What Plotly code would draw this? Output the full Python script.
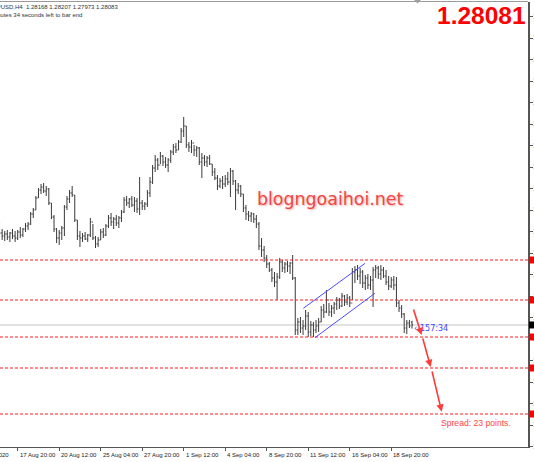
import plotly.graph_objects as go

# ---------------- data (GBPUSD H4) ----------------
bar_index = list(range(160))

opens = [1.3093,1.3084,1.3075,1.3081,1.3072,1.3084,1.3075,1.3069,1.3087,1.3078,
         1.3096,1.3105,1.3111,1.3141,1.3153,1.3189,1.3213,1.3222,1.3210,1.3216,
         1.3174,1.3132,1.3096,1.3069,1.3084,1.3099,1.3162,1.3186,1.3204,1.3198,
         1.3123,1.3075,1.3069,1.3075,1.3066,1.3078,1.3117,1.3069,1.3051,1.3063,
         1.3087,1.3078,1.3105,1.3129,1.3117,1.3126,1.3114,1.3129,1.3147,1.3183,
         1.3174,1.3186,1.3168,1.3180,1.3156,1.3174,1.3165,1.3171,1.3204,1.3237,
         1.3279,1.3303,1.3288,1.3315,1.3297,1.3288,1.3303,1.3327,1.3342,1.3333,
         1.3357,1.3390,1.3405,1.3348,1.3342,1.3354,1.3333,1.3339,1.3297,1.3309,
         1.3297,1.3309,1.3291,1.3267,1.3249,1.3225,1.3240,1.3231,1.3246,1.3237,
         1.3270,1.3240,1.3213,1.3225,1.3201,1.3159,1.3141,1.3135,1.3141,1.3126,
         1.3111,1.3045,1.3033,1.3009,1.2991,1.2973,1.2949,1.2937,1.2952,1.2997,
         1.2979,1.2991,1.2985,1.2994,1.2949,1.2793,1.2817,1.2799,1.2805,1.2835,
         1.2787,1.2808,1.2793,1.2805,1.2817,1.2853,1.2847,1.2883,1.2847,1.2859,
         1.2871,1.2883,1.2865,1.2895,1.2877,1.2889,1.2874,1.2967,1.2973,1.2955,
         1.2967,1.2934,1.2949,1.2928,1.2943,1.2973,1.2979,1.2961,1.2973,1.2955,
         1.2937,1.2925,1.2943,1.2928,1.2874,1.2859,1.2841,1.2799,1.2814,1.28168]

highs = [1.3117,1.3096,1.3090,1.3093,1.3087,1.3096,1.3090,1.3093,1.3102,1.3099,
         1.3114,1.3117,1.3147,1.3159,1.3195,1.3219,1.3231,1.3234,1.3225,1.3219,
         1.3174,1.3138,1.3099,1.3093,1.3105,1.3168,1.3195,1.3213,1.3225,1.3198,
         1.3123,1.3090,1.3084,1.3087,1.3081,1.3129,1.3111,1.3075,1.3072,1.3096,
         1.3099,1.3111,1.3138,1.3144,1.3132,1.3138,1.3135,1.3153,1.3192,1.3195,
         1.3189,1.3195,1.3192,1.3189,1.3252,1.3183,1.3177,1.3213,1.3252,1.3288,
         1.3318,1.3309,1.3327,1.3318,1.3312,1.3309,1.3333,1.3351,1.3354,1.3363,
         1.3399,1.3432,1.3405,1.3357,1.3363,1.3348,1.3345,1.3342,1.3324,1.3318,
         1.3315,1.3318,1.3291,1.3279,1.3258,1.3249,1.3255,1.3258,1.3267,1.3279,
         1.3273,1.3243,1.3234,1.3228,1.3201,1.3168,1.3150,1.3147,1.3144,1.3138,
         1.3117,1.3069,1.3045,1.3018,1.2997,1.2979,1.2967,1.2964,1.3009,1.3003,
         1.2997,1.3000,1.2997,1.3018,1.2952,1.2829,1.2832,1.2823,1.2853,1.2847,
         1.2820,1.2817,1.2823,1.2829,1.2865,1.2871,1.2913,1.2874,1.2868,1.2877,
         1.2892,1.2889,1.2904,1.2898,1.2901,1.2895,1.2979,1.2985,1.2988,1.2979,
         1.2973,1.2958,1.2961,1.2955,1.2982,1.2988,1.2985,1.2988,1.2982,1.2973,
         1.2955,1.2952,1.2955,1.2952,1.2883,1.2868,1.2844,1.2823,1.2823,1.28207]

lows = [1.3072,1.3063,1.3060,1.3063,1.3057,1.3066,1.3057,1.3063,1.3069,1.3072,
        1.3087,1.3093,1.3108,1.3129,1.3153,1.3189,1.3201,1.3204,1.3195,1.3168,
        1.3126,1.3087,1.3054,1.3048,1.3063,1.3075,1.3153,1.3174,1.3192,1.3117,
        1.3063,1.3042,1.3057,1.3063,1.3057,1.3072,1.3063,1.3039,1.3042,1.3063,
        1.3069,1.3075,1.3099,1.3105,1.3096,1.3105,1.3099,1.3117,1.3144,1.3165,
        1.3159,1.3162,1.3147,1.3144,1.3138,1.3153,1.3153,1.3162,1.3192,1.3231,
        1.3267,1.3273,1.3291,1.3285,1.3279,1.3267,1.3294,1.3318,1.3324,1.3333,
        1.3354,1.3372,1.3339,1.3327,1.3324,1.3315,1.3312,1.3288,1.3249,1.3285,
        1.3282,1.3288,1.3255,1.3243,1.3213,1.3219,1.3216,1.3222,1.3228,1.3192,
        1.3228,1.3153,1.3201,1.3192,1.3147,1.3123,1.3120,1.3117,1.3114,1.3099,
        1.3033,1.3012,1.2997,1.2979,1.2967,1.2937,1.2922,1.2883,1.2946,1.2967,
        1.2964,1.2967,1.2961,1.2943,1.2778,1.2778,1.2784,1.2778,1.2793,1.2772,
        1.2775,1.2772,1.2784,1.2787,1.2817,1.2829,1.2844,1.2835,1.2832,1.2841,
        1.2853,1.2856,1.2862,1.2865,1.2868,1.2862,1.2883,1.2934,1.2943,1.2931,
        1.2919,1.2913,1.2916,1.2913,1.2862,1.2949,1.2946,1.2943,1.2949,1.2928,
        1.2913,1.2919,1.2913,1.2862,1.2847,1.2829,1.2784,1.2781,1.2799,1.27973]

closes = [1.3084,1.3075,1.3081,1.3072,1.3084,1.3075,1.3069,1.3087,1.3078,1.3096,
          1.3105,1.3111,1.3141,1.3153,1.3189,1.3213,1.3222,1.3210,1.3216,1.3174,
          1.3132,1.3096,1.3069,1.3084,1.3099,1.3162,1.3186,1.3204,1.3198,1.3123,
          1.3075,1.3069,1.3075,1.3066,1.3078,1.3117,1.3069,1.3051,1.3063,1.3087,
          1.3078,1.3105,1.3129,1.3117,1.3126,1.3114,1.3129,1.3147,1.3183,1.3174,
          1.3186,1.3168,1.3180,1.3156,1.3174,1.3165,1.3171,1.3204,1.3237,1.3279,
          1.3303,1.3288,1.3315,1.3297,1.3288,1.3303,1.3327,1.3342,1.3333,1.3357,
          1.3390,1.3405,1.3348,1.3342,1.3354,1.3333,1.3339,1.3297,1.3309,1.3297,
          1.3309,1.3291,1.3267,1.3249,1.3225,1.3240,1.3231,1.3246,1.3237,1.3270,
          1.3240,1.3213,1.3225,1.3201,1.3159,1.3141,1.3135,1.3141,1.3126,1.3111,
          1.3045,1.3033,1.3009,1.2991,1.2973,1.2949,1.2937,1.2952,1.2997,1.2979,
          1.2991,1.2985,1.2994,1.2949,1.2793,1.2817,1.2799,1.2805,1.2835,1.2787,
          1.2808,1.2793,1.2805,1.2817,1.2853,1.2847,1.2883,1.2847,1.2859,1.2871,
          1.2883,1.2865,1.2895,1.2877,1.2889,1.2874,1.2967,1.2973,1.2955,1.2967,
          1.2934,1.2949,1.2928,1.2943,1.2973,1.2979,1.2961,1.2973,1.2955,1.2937,
          1.2925,1.2943,1.2928,1.2874,1.2859,1.2841,1.2799,1.2814,1.2805,1.28081]

date_tick_index = [7, 23, 39, 55, 71, 87, 103, 119, 135, 151]
date_tick_text = ["17 Aug 20:00", "20 Aug 12:00", "25 Aug 04:00", "27 Aug 20:00",
                  "1 Sep 12:00", "4 Sep 04:00", "8 Sep 20:00", "11 Sep 12:00",
                  "16 Sep 04:00", "18 Sep 20:00"]
first_date_text = "14 Aug 2020"

current_price = 1.28081
level_prices = [1.3003, 1.2883, 1.2772, 1.2679, 1.2541]

# channel lines: (bar, price) -> (bar, price)
channel_lines = [((117.1, 1.2858), (140.9, 1.2993)),
                 ((121.6, 1.2770), (144.7, 1.2903))]

# projected path arrows: tail (bar, price) -> head (bar, price)
arrow_segments = [((159.4, 1.2859), (162.7, 1.2778)),
                  ((163.0, 1.2772), (166.2, 1.2682)),
                  ((166.6, 1.2673), (170.45, 1.2548))]

header_line1 = "GBPUSD,H4  1.28168 1.28207 1.27973 1.28083"
header_line2 = "157 minutes 34 seconds left to bar end"
timer_text = "157:34"
spread_text = "Spread: 23 points."
watermark = "blogngoaihoi.net"

# ---------------- layout constants ----------------
W, H = 534, 462
ML, MR, MT, MB = 0, 6, 2, 15
PW, PH = W - ML - MR, H - MT - MB
X_RANGE = [0.18, 203.72]
Y_RANGE = [1.2442, 1.3777]
PX_PRICE = (Y_RANGE[1] - Y_RANGE[0]) / PH


def px_x(px):
    return (px - ML) / PW


def px_y(py):
    return (H - MB - py) / PH


SMALL = "Liberation Sans, Arial, sans-serif"

fig = go.Figure()
fig.add_trace(go.Ohlc(
    x=bar_index, open=opens, high=highs, low=lows, close=closes,
    increasing=dict(line=dict(color="#3a3a3a", width=1)),
    decreasing=dict(line=dict(color="#3a3a3a", width=1)),
    tickwidth=0.4, hoverinfo="skip", showlegend=False,
))

shapes = []
# current price line
shapes.append(dict(type="line", xref="paper", yref="y", x0=0, x1=1,
                   y0=current_price, y1=current_price,
                   line=dict(color="#c4c4c4", width=1), layer="below"))
# support / resistance levels
for lv in level_prices:
    shapes.append(dict(type="line", xref="paper", yref="y", x0=0, x1=1,
                       y0=lv, y1=lv, line=dict(color="#ff1a1a", width=1, dash="3px,2px")))
    shapes.append(dict(type="rect", xref="paper", yref="y",
                       x0=px_x(529), x1=px_x(545),
                       y0=lv - 3.5 * PX_PRICE, y1=lv + 3.5 * PX_PRICE,
                       fillcolor="#ff0000", line=dict(width=0)))
shapes.append(dict(type="rect", xref="paper", yref="y",
                   x0=px_x(529), x1=px_x(545),
                   y0=current_price - 3.5 * PX_PRICE, y1=current_price + 3.5 * PX_PRICE,
                   fillcolor="#000000", line=dict(width=0)))
# channel
for (x0, y0), (x1, y1) in channel_lines:
    shapes.append(dict(type="line", xref="x", yref="y", x0=x0, y0=y0, x1=x1, y1=y1,
                       line=dict(color="#4a4aff", width=1)))
# top frame line
shapes.append(dict(type="line", xref="paper", yref="paper", x0=0, x1=1, y0=px_y(1.5), y1=px_y(1.5),
                   line=dict(color="#9a9a9a", width=1)))
# chart shift marker
shapes.append(dict(type="path", xref="paper", yref="paper",
                   path=f"M {px_x(414)} {px_y(0)} L {px_x(421)} {px_y(0)} L {px_x(417.5)} {px_y(3.5)} Z",
                   fillcolor="#a0a0a0", line=dict(width=0)))

annotations = []
for i, t in zip(date_tick_index, date_tick_text):
    annotations.append(dict(x=i, xref="x", y=0, yref="paper", yshift=-8,
                            text=t, showarrow=False, xanchor="left", yanchor="middle",
                            xshift=0, font=dict(family=SMALL, size=6, color="#222")))
annotations.append(dict(x=0, xref="paper", y=0, yref="paper", yshift=-8, xshift=11,
                        text=first_date_text, showarrow=False, xanchor="right", yanchor="middle",
                        font=dict(family=SMALL, size=6, color="#222")))
annotations.append(dict(x=px_x(120), xref="paper", y=px_y(6.7), yref="paper",
                        text=header_line1, showarrow=False, xanchor="right", yanchor="middle",
                        font=dict(family=SMALL, size=6, color="#333")))
annotations.append(dict(x=px_x(84), xref="paper", y=px_y(15.3), yref="paper",
                        text=header_line2, showarrow=False, xanchor="right", yanchor="middle",
                        font=dict(family=SMALL, size=6, color="#333")))
annotations.append(dict(x=px_x(528), xref="paper", y=px_y(16), yref="paper",
                        text="<b>1.28081</b>", showarrow=False, xanchor="right", yanchor="middle",
                        font=dict(family="Liberation Sans, Arial", size=24.5, color="#ff0000")))
annotations.append(dict(x=px_x(330), xref="paper", y=px_y(198.5), yref="paper",
                        text=watermark, showarrow=False, xanchor="center", yanchor="middle",
                        font=dict(family="DejaVu Sans, Verdana", size=17.4, color="#f24646",
                                  shadow="1px 1px 2px rgba(200,0,0,0.35)")))
annotations.append(dict(x=px_x(439), xref="paper", y=px_y(423.3), yref="paper",
                        text=spread_text, showarrow=False, xanchor="left", yanchor="middle",
                        font=dict(family=SMALL, size=8.6, color="#ff4444")))
annotations.append(dict(x=px_x(418), xref="paper", y=px_y(328), yref="paper",
                        text=timer_text, showarrow=False, xanchor="left", yanchor="middle",
                        font=dict(family="DejaVu Sans", size=8, color="#4646ff")))
annotations.append(dict(x=px_x(412), xref="paper", y=px_y(328), yref="paper",
                        text="‹", showarrow=False, xanchor="left", yanchor="middle",
                        font=dict(family="DejaVu Sans", size=8, color="#4646ff")))
for (tx, ty), (hx, hy) in arrow_segments:
    annotations.append(dict(x=hx, y=hy, xref="x", yref="y", ax=tx, ay=ty, axref="x", ayref="y",
                            text="", showarrow=True, arrowhead=2, arrowsize=0.9, arrowwidth=1.6,
                            arrowcolor="#ff3a3a", standoff=0, startstandoff=0))

fig.update_layout(
    width=W, height=H, template="none",
    margin=dict(l=ML, r=MR, t=MT, b=MB, pad=0),
    paper_bgcolor="white", plot_bgcolor="white",
    showlegend=False, shapes=shapes, annotations=annotations,
    xaxis=dict(range=X_RANGE, showgrid=False, zeroline=False, showline=True,
               linecolor="#555", linewidth=1, ticks="outside", ticklen=3, tickcolor="#555",
               tickvals=date_tick_index, showticklabels=False,
               rangeslider=dict(visible=False), automargin=False, fixedrange=True),
    yaxis=dict(range=Y_RANGE, side="right", showgrid=False, zeroline=False, showline=True,
               linecolor="#555", linewidth=1.5, ticks="outside", ticklen=3, tickcolor="#555",
               tick0=1.2443, dtick=0.00645, tickformat=".5f", ticklabelstandoff=-1,
               tickfont=dict(family=SMALL, size=6.5, color="#5a3c28"), automargin=False,
               fixedrange=True),
)

fig.write_html("out.html", config={"displayModeBar": False},
               post_script="document.body.style.margin='0px';document.body.style.overflow='hidden';")
